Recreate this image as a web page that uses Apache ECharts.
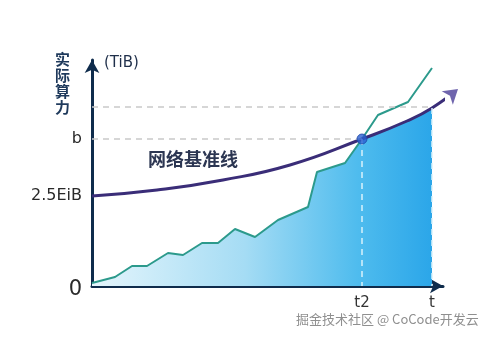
<!DOCTYPE html>
<html><head><meta charset="utf-8">
<script src="https://cdn.jsdelivr.net/npm/echarts@6/dist/echarts.min.js"></script>
<style>html,body{margin:0;padding:0;background:#fff}#c{width:500px;height:342px}</style>
</head><body><div id="c"></div>
<script>
// actual computing power (green line)
const actualX = [0, 23, 40, 55, 76, 91, 110, 126, 143, 163, 186, 216, 225, 253, 270, 286, 316, 340];
const actualY = [3, 9, 20, 20, 33, 31, 43, 43, 57, 49, 66, 79, 114, 123, 147, 171, 184, 218];
// network baseline curve
const baseX = [0, 65, 131, 198, 270, 315, 340, 366];
const baseY = [90, 96, 106, 121, 147, 165, 178, 197];
// axis labels
const yTickValues = [0, 90, 147];
const yTickLabels = ['0', '2.5EiB', 'b'];
const xTickValues = [270, 340];
const xTickLabels = ['t2', 't'];
const upperLevel = 179;
const xMax = 351, yMax = 226;

const actual = actualX.map((x, i) => [x, actualY[i]]);
const base = baseX.map((x, i) => [x, baseY[i]]);
const t2 = xTickValues[0], tEnd = xTickValues[1];
const bLevel = yTickValues[2];
const actualFill = actual.filter(p => p[0] <= t2);
const baseFill = base.filter(p => p[0] >= t2 && p[0] <= tEnd);
const n = base.length;

const grad = { type: 'linear', x: 92, y: 0, x2: 432, y2: 0, global: true,
  colorStops: [{ offset: 0, color: '#e4f5fc' }, { offset: 0.45, color: '#a5dcf4' },
               { offset: 0.78, color: '#4fbcee' }, { offset: 1, color: '#2ba6e9' }] };

const chart = echarts.init(document.getElementById('c'), null, { renderer: 'canvas' });
const axisColor = '#0f2c4c';
chart.setOption({
  animation: false,
  grid: { left: 92, right: 57, top: 60, bottom: 56 },
  xAxis: {
    type: 'value', min: 0, max: xMax,
    axisLine: { show: true, symbol: ['none', 'arrow'], symbolSize: [11, 13], lineStyle: { color: axisColor, width: 3 } },
    axisTick: { show: false }, splitLine: { show: false },
    axisLabel: { customValues: xTickValues, margin: 10, fontSize: 15, color: '#333', fontFamily: 'DejaVu Sans',
      formatter: v => xTickLabels[xTickValues.indexOf(v)] }
  },
  yAxis: {
    type: 'value', min: 0, max: yMax,
    axisLine: { show: true, symbol: ['none', 'arrow'], symbolSize: [11, 13], lineStyle: { color: axisColor, width: 3 } },
    axisTick: { show: false }, splitLine: { show: false },
    axisLabel: { customValues: yTickValues, margin: 10, color: '#2a2a2a', fontFamily: 'DejaVu Sans',
      formatter: v => { const i = yTickValues.indexOf(v); return i === 0 ? '{z|' + yTickLabels[i] + '}' : '{s|' + yTickLabels[i] + '}'; },
      rich: { z: { fontSize: 21, fontFamily: 'DejaVu Sans', color: '#2a2a2a', padding: [8, 0, 0, 0] },
              s: { fontSize: 16, fontFamily: 'DejaVu Sans', color: '#2a2a2a' } } }
  },
  series: [
    { type: 'line', data: actualFill, symbol: 'none', lineStyle: { width: 0 }, areaStyle: { color: grad, opacity: 1 }, z: 1 },
    { type: 'line', data: baseFill, smooth: true, symbol: 'none', lineStyle: { width: 0 }, areaStyle: { color: grad, opacity: 1 }, z: 1,
      markLine: { silent: true, symbol: 'none', label: { show: false },
        lineStyle: { color: '#c9c9c9', type: [6, 5], width: 1.5 },
        data: [
          [{ coord: [0, upperLevel] }, { coord: [tEnd, upperLevel] }],
          [{ coord: [0, bLevel] }, { coord: [t2, bLevel] }],
          [{ coord: [t2, bLevel], lineStyle: { color: '#d8f2fb' } }, { coord: [t2, 0] }],
          [{ coord: [tEnd, baseY[baseX.indexOf(tEnd)]], lineStyle: { color: '#d8f2fb' } }, { coord: [tEnd, 0] }]
        ] } },
    { type: 'line', data: actual, symbol: 'none', lineStyle: { color: '#2c9a8c', width: 2 }, z: 3 },
    { type: 'line', data: base, smooth: true, clip: false, symbol: 'none',
      lineStyle: { color: '#3a2d78', width: 3 }, z: 4 },
    { type: 'scatter', data: [base[n - 1]], clip: false, symbol: 'arrow', symbolSize: [13, 14], symbolRotate: -50,
      itemStyle: { color: '#4b3f98' }, z: 5 },
    { type: 'scatter', data: [[t2, bLevel]], symbolSize: 10, itemStyle: { color: '#2a5fd0', borderColor: '#1d47a8', borderWidth: 1 }, z: 5 }
  ],
  graphic: [
    { type: 'text', left: 55, top: 51, style: { text: '实\n际\n算\n力', font: 'bold 15px "Noto Sans CJK SC"', lineHeight: 16, fill: '#1f3a5c' } },
    { type: 'text', left: 104, top: 56, style: { text: '(TiB)', font: '15px "DejaVu Sans"', fill: '#1f2f4a' } },
    { type: 'text', left: 148, top: 150, style: { text: '网络基准线', font: 'bold 18px "Noto Sans CJK SC"', fill: '#2c3652' } },
    { type: 'text', left: 296, top: 313, style: { text: '掘金技术社区 @ CoCode开发云', font: '13px "Noto Sans CJK SC"', fill: '#8f8f8f' } }
  ]
});
</script></body></html>
